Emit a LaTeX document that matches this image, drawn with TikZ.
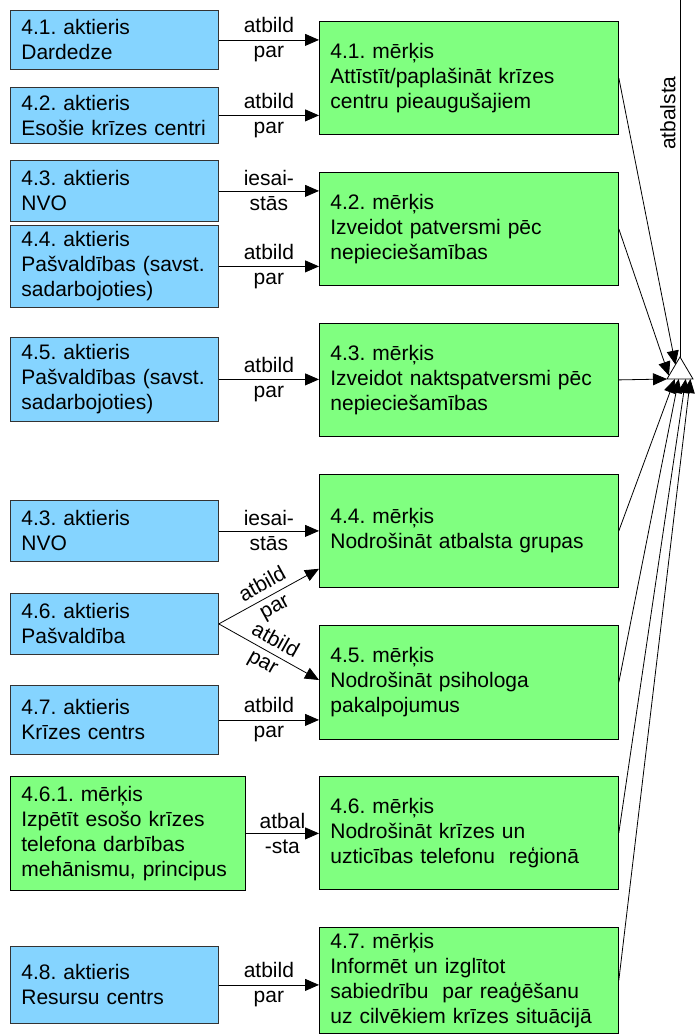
\documentclass[tikz,border=0pt]{standalone}
\usepackage{fontspec}
\setmainfont{Liberation Sans}
\usetikzlibrary{arrows.meta,calc}
\definecolor{actorblue}{RGB}{133,212,255}
\definecolor{goalgreen}{RGB}{128,255,128}

\begin{document}
\frenchspacing
\begin{tikzpicture}[x=1pt,y=-1pt,
  every node/.style={font=\fontsize{21}{25}\selectfont},
  box/.style={rectangle, line width=0.8pt, anchor=north west, align=left,
    inner xsep=11pt, inner ysep=0pt},
  actor/.style={box, draw=black!80, fill=actorblue, minimum width=208pt, text width=186pt},
  goal/.style={box, draw=black, fill=goalgreen, minimum width=299pt, text width=277pt},
  link/.style={line width=0.8pt, -{Triangle[length=14pt,width=12pt]}},
  lbl/.style={midway, align=center, inner sep=0pt},
]
\useasboundingbox (0,0) rectangle (695,1036);

% actors (left column)
\node[actor, minimum height=59pt] (A41) at (10,10) {4.1. aktieris\\Dardedze};
\node[actor, minimum height=56pt] (A42) at (10,87) {4.2. aktieris\\Esošie krīzes centri};
\node[actor, minimum height=61pt] (A43a) at (10,160) {4.3. aktieris\\NVO};
\node[actor, minimum height=82pt] (A44) at (10,225) {4.4. aktieris\\Pašvaldības (savst.\\sadarbojoties)};
\node[actor, minimum height=84pt] (A45) at (10,337) {4.5. aktieris\\Pašvaldības (savst.\\sadarbojoties)};
\node[actor, minimum height=61pt] (A43b) at (10,500) {4.3. aktieris\\NVO};
\node[actor, minimum height=61pt] (A46) at (10,593) {4.6. aktieris\\Pašvaldība};
\node[actor, minimum height=69pt] (A47) at (10,685) {4.7. aktieris\\Krīzes centrs};
\node[goal, minimum width=235pt, text width=213pt, minimum height=114pt] (G461) at (10,776)
  {4.6.1. mērķis\\Izpētīt esošo krīzes\\telefona darbības\\mehānismu, principus};
\node[actor, minimum height=77pt] (A48) at (10,946) {4.8. aktieris\\Resursu centrs};

% goals (right column)
\node[goal, minimum height=113pt] (G41) at (319,21) {4.1. mērķis\\Attīstīt/paplašināt krīzes\\centru pieaugušajiem};
\node[goal, minimum height=113pt] (G42) at (319,172) {4.2. mērķis\\Izveidot patversmi pēc\\nepieciešamības};
\node[goal, minimum height=113pt] (G43) at (319,323) {4.3. mērķis\\Izveidot naktspatversmi pēc\\nepieciešamības};
\node[goal, minimum height=113pt] (G44) at (319,474) {4.4. mērķis\\Nodrošināt atbalsta grupas};
\node[goal, minimum height=114pt] (G45) at (319,625) {4.5. mērķis\\Nodrošināt psihologa\\pakalpojumus};
\node[goal, minimum height=113pt] (G46) at (319,776) {4.6. mērķis\\Nodrošināt krīzes un\\uzticības telefonu~ reģionā};
\node[goal, minimum height=106pt] (G47) at (319,927) {4.7. mērķis\\Informēt un izglītot\\sabiedrību~ par reaģēšanu\\uz cilvēkiem krīzes situācijā};

% actor -> goal links
\draw[link] (A41.east) -- node[lbl] {atbild\\par} (A41.east -| G41.west);
\draw[link] (A42.east) -- node[lbl] {atbild\\par} (A42.east -| G41.west);
\draw[link] (A43a.east) -- node[lbl] {iesai-\\stās} (A43a.east -| G42.west);
\draw[link] (A44.east) -- node[lbl] {atbild\\par} (A44.east -| G42.west);
\draw[link] (A45.east) -- node[lbl] {atbild\\par} (A45.east -| G43.west);
\draw[link] (A43b.east) -- node[lbl] {iesai-\\stās} (A43b.east -| G44.west);
\draw[link] (A46.east) -- node[lbl, sloped] {atbild\\par} ([yshift=19pt]G44.south west);
\draw[link] (A46.east) -- node[lbl, sloped] {atbild\\par} ([yshift=-55pt]G45.north west);
\draw[link] (A47.east) -- node[lbl] {atbild\\par} (A47.east -| G45.west);
\draw[link] (G461.east) -- node[lbl] {atbal\\-sta} (G461.east -| G46.west);
\draw[link] (A48.east) -- node[lbl] {atbild\\par} (A48.east -| G47.west);

% aggregation triangle
\coordinate (tA) at (680,357);
\coordinate (tL) at (667,379);
\coordinate (tR) at (693,379);
\coordinate (top) at (680,0);
\draw[line width=0.8pt, fill=white] (tA) -- (tL) -- (tR) -- cycle;
\draw[line width=0.8pt] (tA) -- node[pos=0.683, rotate=90, anchor=south, inner sep=4pt] {atbalsta} (top);

\coordinate (t1) at ($(tA)!0.35!(tL)$);
\coordinate (t2) at ($(tA)!0.85!(tL)$);
\coordinate (b1) at ($(tL)!0.30!(tR)$);
\coordinate (b2) at ($(tL)!0.45!(tR)$);
\coordinate (b3) at ($(tL)!0.72!(tR)$);
\coordinate (b4) at ($(tL)!0.90!(tR)$);

\draw[link] (G41.east) -- (t1);
\draw[link] (G42.east) -- (t2);
\draw[link] (G43.east) -- (tL);
\draw[link] (G44.east) -- (b1);
\draw[link] (G45.east) -- (b2);
\draw[link] (G46.east) -- (b3);
\draw[link] (G47.east) -- (b4);
\end{tikzpicture}
\end{document}
